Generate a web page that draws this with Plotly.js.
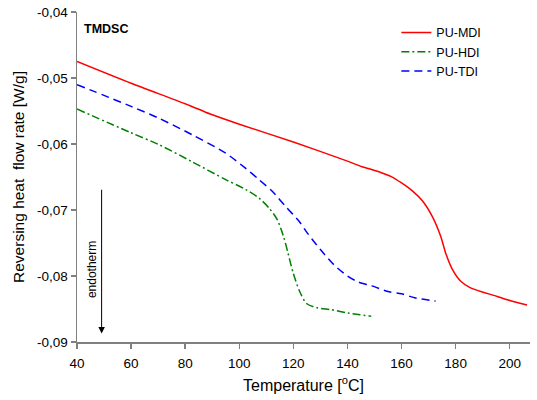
<!DOCTYPE html>
<html><head><meta charset="utf-8">
<script src="https://cdn.plot.ly/plotly-3.0.1.min.js"></script>
<style>body{margin:0;padding:0;background:#fff}#c{width:537px;height:400px}</style>
</head><body><div id="c"></div>
<script>
// PU-MDI
const mdiT = [40, 60, 80, 89.5, 100, 120, 140, 145.2, 151.6, 156, 160, 164, 167.7, 171.4, 174.5, 176.3, 178.8, 181.9, 185.5, 195.4, 200, 206.4];
const mdiY = [-0.0475, -0.0508, -0.0539, -0.0555, -0.0570, -0.0597, -0.0626, -0.0634, -0.0642, -0.0649, -0.0659, -0.0671, -0.0686, -0.0710, -0.0740, -0.0765, -0.0790, -0.0808, -0.0818, -0.0831, -0.0837, -0.0844];
// PU-HDI
const hdiT = [40, 60, 70.3, 82.6, 95, 102.4, 107.3, 111, 114.1, 116.5, 118, 119.9, 122.5, 125, 128.8, 133.9, 140.2, 148.8];
const hdiY = [-0.0547, -0.0583, -0.0601, -0.0627, -0.0654, -0.0669, -0.0682, -0.0697, -0.0715, -0.0742, -0.0765, -0.0795, -0.0825, -0.0842, -0.0848, -0.0851, -0.0856, -0.0861];
// PU-TDI
const tdiT = [40, 60, 70.3, 82.6, 95, 102.4, 107.3, 112.3, 117.2, 122.1, 125.2, 130, 135, 140, 144, 149, 155.4, 160, 164.9, 172.6];
const tdiY = [-0.0510, -0.0543, -0.0561, -0.0586, -0.0614, -0.0637, -0.0654, -0.0672, -0.0695, -0.0717, -0.0735, -0.0760, -0.0783, -0.0800, -0.0809, -0.0815, -0.0824, -0.0827, -0.0833, -0.0838];

const xTicks = [40, 60, 80, 100, 120, 140, 160, 180, 200];
const yTicks = [-0.04, -0.05, -0.06, -0.07, -0.08, -0.09];
const yTickText = ['-0,04', '-0,05', '-0,06', '-0,07', '-0,08', '-0,09'];

const FONT = 'Liberation Sans, Arial, sans-serif';

const traces = [
  {x: mdiT, y: mdiY, name: 'PU-MDI', mode: 'lines', line: {color: '#ff0000', width: 1.5, shape: 'spline', smoothing: 0.8}},
  {x: hdiT, y: hdiY, name: 'PU-HDI', mode: 'lines', line: {color: '#008000', width: 1.5, dash: '8px,3px,2px,3px', shape: 'spline', smoothing: 0.8}},
  {x: tdiT, y: tdiY, name: 'PU-TDI', mode: 'lines', line: {color: '#0000ff', width: 1.5, dash: '8px,5px', shape: 'spline', smoothing: 0.8}}
];

const axisCommon = {
  showgrid: false, zeroline: false, showline: true, linecolor: '#808080', linewidth: 1.5,
  ticks: 'outside', ticklen: 5, tickcolor: '#808080', tickwidth: 1.5,
  tickfont: {family: FONT, size: 13.5, color: '#000'}
};

const layout = {
  width: 537, height: 400,
  margin: {l: 77, r: 7, t: 12, b: 58},
  paper_bgcolor: '#fff', plot_bgcolor: '#fff',
  font: {family: FONT, color: '#000'},
  showlegend: true,
  legend: {x: 0.705, y: 0.982, xanchor: 'left', yanchor: 'top', bgcolor: 'rgba(0,0,0,0)',
    font: {size: 12.5, color: '#000'}, tracegroupgap: 0},
  xaxis: Object.assign({}, axisCommon, {range: [40, 207.5], tickvals: xTicks, ticklabelstandoff: 3,
    title: {text: 'Temperature [<sup>o</sup>C]', font: {size: 16}, standoff: 10}}),
  yaxis: Object.assign({}, axisCommon, {range: [-0.09, -0.04], tickvals: yTicks, ticktext: yTickText,
    title: {text: 'Reversing heat\u00a0 flow rate [W/g]', font: {size: 15.5}, standoff: 8}}),
  annotations: [
    {xref: 'paper', yref: 'paper', x: 0.01, y: 0.975, xanchor: 'left', yanchor: 'top',
      text: '<b>TMDSC</b>', showarrow: false, font: {size: 12.5, color: '#000'}},
    {xref: 'x', yref: 'y', x: 49.1, y: -0.0887, axref: 'x', ayref: 'y', ax: 49.1, ay: -0.0667,
      text: '', showarrow: true, arrowhead: 2, arrowsize: 1.3, arrowwidth: 1, arrowcolor: '#000'},
    {xref: 'x', yref: 'y', x: 45.8, y: -0.0790, text: 'endotherm', textangle: -90, showarrow: false,
      font: {size: 12, color: '#000'}}
  ]
};

Plotly.newPlot('c', traces, layout, {displayModeBar: false, staticPlot: true});
</script>
</body></html>
